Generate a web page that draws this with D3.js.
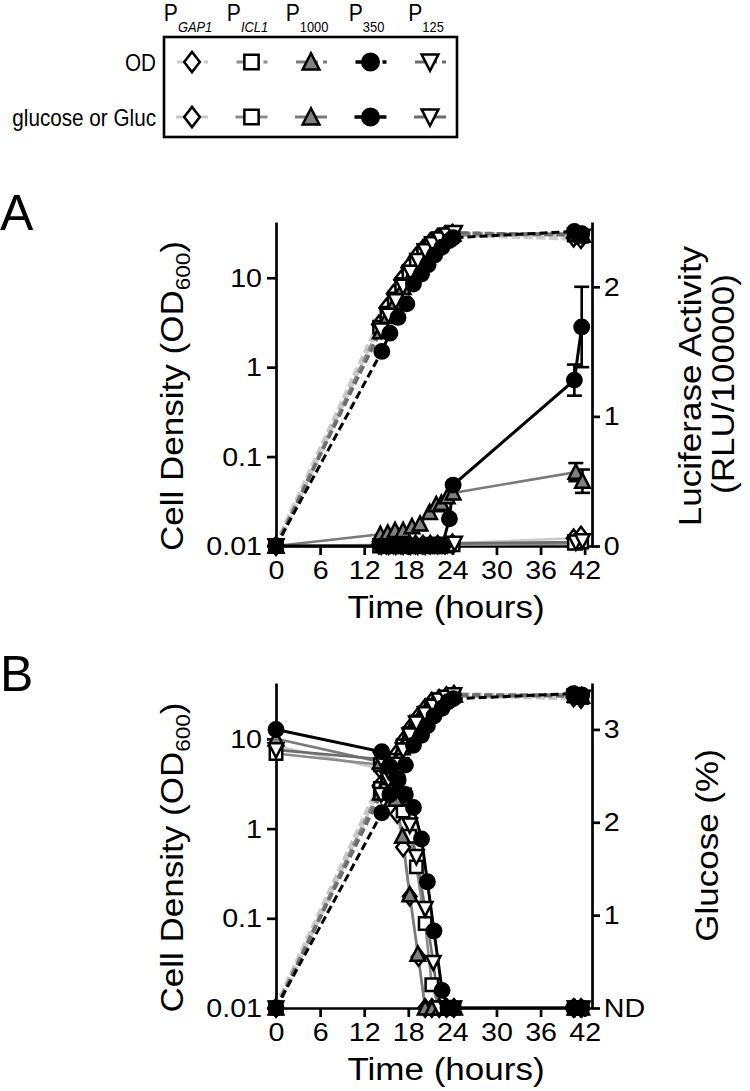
<!DOCTYPE html>
<html><head><meta charset="utf-8">
<script src="https://cdn.jsdelivr.net/npm/d3@7"></script>
<style>body{margin:0;background:#fff}svg{display:block}text{font-family:"Liberation Sans",Arial,sans-serif;fill:#000}</style>
</head><body><div id="c"></div>
<script>
// ---------------- DATA ----------------
const strainNames = ["GAP1", "ICL1", "1000", "350", "125"];
const strainItalic = [true, true, false, false, false];
const rowLabels = ["OD", "glucose or Gluc"];
const timeTicks = [0, 6, 12, 18, 24, 30, 36, 42];
const odTicks = [0.01, 0.1, 1, 10];
const odTickLabels = ["0.01", "0.1", "1", "10"];
const lucTicks = [0, 1, 2];
const lucTickLabels = ["0", "1", "2"];
const glcTicks = [0, 1, 2, 3];
const glcTickLabels = ["ND", "1", "2", "3"];

// Panel A: time (h), OD600, luciferase (RLU/100000), luciferase SD
const timeA_GAP1 = [0, 14, 15, 16, 17, 18, 19, 20, 21, 22, 23, 24, 40.5, 41.5];
const odA_GAP1   = [0.01, 3.0, 4.6, 6.6, 9.5, 13, 17, 21, 25, 28, 30, 31, 28, 27];
const lucA_GAP1  = [0, 0.01, 0.01, 0.01, 0.01, 0.01, 0.01, 0.01, 0.01, 0.01, 0.01, 0.02, 0.06, 0.08];
const timeA_ICL1 = [0, 14.1, 15.1, 16.1, 17.1, 18.1, 19.1, 20.1, 21.1, 22.1, 23.1, 24.1, 40.6, 41.6];
const odA_ICL1   = [0.01, 2.8, 4.0, 5.8, 8.4, 11.5, 15.5, 19.5, 23.5, 27, 29, 30, 30, 29];
const lucA_ICL1  = [0, 0, 0, 0, 0, 0, 0, 0, 0, 0, 0, 0.01, 0.02, 0.03];
const timeA_1000 = [0, 14.2, 15.2, 16.2, 17.3, 18.5, 19.6, 20.9, 21.8, 22.5, 23.3, 24.1, 40.8, 41.7];
const odA_1000   = [0.01, 2.5, 3.7, 5.3, 7.8, 11, 15, 19, 23, 26, 29, 31, 31, 30];
const lucA_1000  = [0, 0.09, 0.1, 0.12, 0.12, 0.15, 0.17, 0.26, 0.32, 0.33, 0.38, 0.41, 0.57, 0.5];
const sdA_1000   = [0, 0, 0, 0, 0, 0, 0, 0, 0, 0, 0, 0, 0.07, 0.09];
const timeA_350  = [0, 14.4, 15.5, 16.6, 17.8, 18.7, 19.8, 20.7, 21.6, 22.6, 23.6, 24.1, 40.6, 41.6];
const odA_350    = [0.01, 1.5, 2.4, 3.6, 5.1, 8.5, 11, 14, 18, 22, 26, 28, 33, 31];
const lucA_350   = [0, 0, 0, 0, 0, 0, 0, 0, 0, 0, 0.21, 0.47, 1.28, 1.69];
const sdA_350    = [0, 0, 0, 0, 0, 0, 0, 0, 0, 0, 0, 0, 0.12, 0.31];
const timeA_125  = [0, 14.3, 15.3, 16.3, 17.3, 18.3, 19.3, 20.3, 21.3, 22.3, 23.3, 24.3, 40.8, 41.7];
const odA_125    = [0.01, 2.6, 3.8, 5.5, 8, 11.5, 15.5, 20, 24, 27, 30, 32, 30, 29];
const lucA_125   = [0, 0, 0, 0, 0, 0, 0, 0, 0.01, 0.01, 0.01, 0.02, 0.03, 0.04];

// Panel B: time (h), OD600, glucose (%)
const timeB_GAP1 = [0, 14.1, 15.1, 16.5, 17.3, 18.2, 19.4, 20.3, 21.2, 22.2, 23.2, 24.2, 40.5, 41.5];
const odB_GAP1   = [0.01, 3.0, 4.6, 7, 9.5, 13, 18, 22, 26, 28, 30, 31, 29, 28];
const glcB_GAP1  = [2.82, 2.58, 2.43, 2.09, 1.73, 1.2, 0.55, 0, 0, 0, 0, 0, 0, 0];
const timeB_ICL1 = [0, 14.2, 15.3, 16.3, 17.3, 18.2, 19.1, 20.3, 21.2, 22.2, 23.2, 24.2, 40.6, 41.6];
const odB_ICL1   = [0.01, 2.8, 4.0, 5.8, 8.4, 11.5, 15.5, 19.5, 23.5, 27, 29, 30, 30, 29];
const glcB_ICL1  = [2.74, 2.62, 2.5, 2.35, 2.12, 1.85, 1.52, 0.91, 0.25, 0, 0, 0, 0, 0];
const timeB_1000 = [0, 14.2, 15.2, 16.3, 17.2, 18.2, 19.3, 20.3, 21.3, 22.3, 23.3, 24.3, 40.7, 41.6];
const odB_1000   = [0.01, 2.5, 3.7, 5.5, 8, 12, 16, 20, 24, 27, 29, 31, 31, 30];
const glcB_1000  = [2.9, 2.65, 2.5, 2.25, 1.85, 1.22, 0.58, 0, 0, 0, 0, 0, 0, 0];
const timeB_350  = [0, 14.4, 15.5, 16.6, 17.6, 18.7, 19.8, 20.6, 21.5, 22.6, 23.4, 24.1, 40.5, 41.6];
const odB_350    = [0.01, 1.5, 2.4, 3.6, 5.1, 8.5, 11, 14, 18, 22, 26, 28, 32, 31];
const glcB_350   = [3.0, 2.76, 2.6, 2.45, 2.3, 2.16, 1.82, 1.36, 0.83, 0.19, 0, 0, 0, 0];
const timeB_125  = [0, 14.3, 15.3, 16.3, 17.3, 18.2, 19.1, 20.3, 21.4, 22.2, 23.2, 24.2, 40.7, 41.7];
const odB_125    = [0.01, 2.4, 3.5, 5.2, 7.5, 11, 15, 19, 23, 27, 29, 31, 30, 29];
const glcB_125   = [2.78, 2.68, 2.55, 2.42, 2.29, 1.97, 1.63, 1.07, 0.49, 0, 0, 0, 0, 0];

// ---------------- STYLE ----------------
const lineColors = ["#cacaca", "#8c8c8c", "#7a7a7a", "#000000", "#6c6c6c"];
const markerTypes = ["diamond", "square", "triangle", "circle", "triangleDown"];
const markerFills = ["#fff", "#fff", "#808080", "#000", "#fff"];
const drawOrder = [0, 1, 2, 4, 3];
const FONT = '"Liberation Sans", Arial, sans-serif';
const TITLE_SIZE = 31, TITLE_STRETCH = 1.13;

const svg = d3.select("#c").append("svg").attr("width", 750).attr("height", 1091);

function markerPath(type, k) {
  const p = d3.path();
  if (type === "circle") { p.arc(0, 0, 7.2 * k, 0, 2 * Math.PI); }
  else if (type === "square") { const s = 6.2 * k; p.rect(-s, -s, 2 * s, 2 * s); }
  else if (type === "diamond") { const w = 6.8 * k, h = 8.8 * k; p.moveTo(0, -h); p.lineTo(w, 0); p.lineTo(0, h); p.lineTo(-w, 0); p.closePath(); }
  else if (type === "triangle") { const w = 7.3 * k, h = 6.6 * k; p.moveTo(0, -h - 1 * k); p.lineTo(w, h); p.lineTo(-w, h); p.closePath(); }
  else if (type === "triangleDown") { const w = 7.3 * k, h = 6.6 * k; p.moveTo(-w, -h); p.lineTo(w, -h); p.lineTo(0, h + 1 * k); p.closePath(); }
  return p.toString();
}

function drawMarker(g, i, x, y, k) {
  g.append("path").attr("d", markerPath(markerTypes[i], k))
    .attr("transform", `translate(${x},${y})`)
    .attr("fill", markerFills[i]).attr("stroke", "#000").attr("stroke-width", 2.5)
    .attr("stroke-linejoin", "miter");
}

// ---------------- LEGEND ----------------
const legendX = d3.scalePoint().domain(strainNames).range([192, 430]);
const legendRowY = d3.scalePoint().domain(rowLabels).range([62, 117]);
const lg = svg.append("g");
lg.append("rect").attr("x", 164).attr("y", 37).attr("width", 293).attr("height", 100)
  .attr("fill", "none").attr("stroke", "#000").attr("stroke-width", 2.6);
strainNames.forEach((name, i) => {
  const cx = legendX(name);
  const t = lg.append("text").attr("transform", `translate(${cx - 4},21) scale(0.92,1)`)
    .attr("text-anchor", "middle").style("font-size", "23px");
  t.append("tspan").text("P");
  t.append("tspan").attr("dy", 11).style("font-size", "14px")
    .style("font-style", strainItalic[i] ? "italic" : "normal").text(name);
  const w = i === 3 ? 3.4 : 3;
  lg.append("line").attr("x1", cx - 15).attr("x2", cx + 17)
    .attr("y1", legendRowY("OD")).attr("y2", legendRowY("OD"))
    .attr("stroke", lineColors[i]).attr("stroke-width", w).attr("stroke-dasharray", "22,5,4,20");
  lg.append("line").attr("x1", cx - 16).attr("x2", cx + 16)
    .attr("y1", legendRowY(rowLabels[1])).attr("y2", legendRowY(rowLabels[1]))
    .attr("stroke", lineColors[i]).attr("stroke-width", w);
  rowLabels.forEach(r => drawMarker(lg, i, cx, legendRowY(r), 1.15));
});
rowLabels.forEach(r => {
  lg.append("text").attr("transform", `translate(156,${legendRowY(r) + 8.5}) scale(0.88,1)`)
    .attr("text-anchor", "end").style("font-size", "23.5px").text(r);
});

// ---------------- PANELS ----------------
function panel(opt) {
  const g = svg.append("g");
  const x = d3.scaleLinear().domain([0, 43]).range([276, 592]);
  const yL = d3.scaleLog().domain([0.01, 42]).range([opt.bot, opt.top]);
  const yR = d3.scaleLinear().domain([0, opt.rmax]).range([opt.bot, opt.top]);

  const ax = (sel) => {
    sel.selectAll("path.domain").attr("stroke-width", 2.7);
    sel.selectAll(".tick line").attr("stroke-width", 2.7);
    sel.selectAll(".tick text").style("font-size", "26.5px").style("font-family", FONT)
      .attr("transform", "scale(1.08,1)");
  };
  g.append("g").attr("transform", `translate(276,0)`)
    .call(d3.axisLeft(yL).tickValues(odTicks).tickFormat((d, i) => odTickLabels[i]).tickSize(9).tickSizeOuter(0).tickPadding(4)).call(ax);
  g.append("g").attr("transform", `translate(592,0)`)
    .call(d3.axisRight(yR).tickValues(opt.rticks).tickFormat((d, i) => opt.rlabels[i]).tickSize(8).tickSizeOuter(0).tickPadding(3)).call(ax);
  g.append("g").attr("transform", `translate(0,${opt.bot})`)
    .call(d3.axisBottom(x).tickValues(timeTicks).tickSize(9).tickSizeOuter(0).tickPadding(5)).call(ax);

  g.append("text").attr("x", 0).attr("y", opt.top + 8).style("font-size", "50px").text(opt.letter);

  const mid = (opt.top + opt.bot) / 2;
  const lt = g.append("text")
    .attr("transform", `translate(183,${mid + 12}) rotate(-90) scale(${TITLE_STRETCH},1)`)
    .attr("text-anchor", "middle").style("font-size", TITLE_SIZE + "px");
  lt.append("tspan").text("Cell Density (OD");
  lt.append("tspan").attr("dy", 7).style("font-size", "20px").text("600");
  lt.append("tspan").attr("dy", -7).text(")");

  opt.rtitle.forEach((line, j) => {
    g.append("text")
      .attr("transform", `translate(${opt.rtitleX + j * 33},${mid + opt.rdy[j]}) rotate(-90) scale(${TITLE_STRETCH},1)`)
      .attr("text-anchor", "middle").style("font-size", TITLE_SIZE + "px").text(line);
  });

  g.append("text").attr("transform", `translate(446,${opt.bot + 72}) scale(${TITLE_STRETCH},1)`)
    .attr("text-anchor", "middle").style("font-size", TITLE_SIZE + "px").text("Time (hours)");

  const pg = g.append("g");
  const series = opt.series;
  const lineOD = d3.line().x(d => x(d.t)).y(d => yL(d.od));
  const lineS = d3.line().x(d => x(d.t)).y(d => yR(d.s));

  drawOrder.forEach(i => {
    pg.append("path").datum(series[i]).attr("d", lineOD).attr("fill", "none")
      .attr("stroke", lineColors[i]).attr("stroke-width", i === 0 ? 6 : 3)
      .attr("stroke-dasharray", i === 0 ? "9,3.5" : "8,4");
  });
  drawOrder.forEach(i => {
    pg.append("path").datum(series[i]).attr("d", lineS).attr("fill", "none")
      .attr("stroke", lineColors[i]).attr("stroke-width", i === 3 ? 3 : 2.6);
  });
  drawOrder.forEach(i => {
    series[i].filter(d => d.sd > 0).forEach(d => {
      const cx = x(d.t), y1 = yR(d.s + d.sd), y2 = yR(d.s - d.sd);
      pg.append("line").attr("x1", cx).attr("x2", cx).attr("y1", y1).attr("y2", y2).attr("stroke", "#000").attr("stroke-width", 2.6);
      [y1, y2].forEach(yy => pg.append("line").attr("x1", cx - 7.5).attr("x2", cx + 7.5).attr("y1", yy).attr("y2", yy).attr("stroke", "#000").attr("stroke-width", 2.6));
    });
  });
  drawOrder.forEach(i => {
    series[i].forEach(d => {
      drawMarker(pg, i, x(d.t), yL(d.od), 1);
      drawMarker(pg, i, x(d.t), yR(d.s), 1);
    });
  });
}

function build(times, ods, sig, sds) {
  return times.map((t, k) => ({ t, od: ods[k], s: sig[k], sd: sds ? sds[k] : 0 }));
}

panel({
  letter: "A", top: 222, bot: 546, rmax: 2.5, rticks: lucTicks, rlabels: lucTickLabels,
  rtitle: ["Luciferase Activity", "(RLU/100000)"], rtitleX: 701, rdy: [2, 0],
  series: [
    build(timeA_GAP1, odA_GAP1, lucA_GAP1),
    build(timeA_ICL1, odA_ICL1, lucA_ICL1),
    build(timeA_1000, odA_1000, lucA_1000, sdA_1000),
    build(timeA_350, odA_350, lucA_350, sdA_350),
    build(timeA_125, odA_125, lucA_125)
  ]
});
panel({
  letter: "B", top: 683, bot: 1008, rmax: 3.5, rticks: glcTicks, rlabels: glcTickLabels,
  rtitle: ["Glucose (%)"], rtitleX: 718, rdy: [0],
  series: [
    build(timeB_GAP1, odB_GAP1, glcB_GAP1),
    build(timeB_ICL1, odB_ICL1, glcB_ICL1),
    build(timeB_1000, odB_1000, glcB_1000),
    build(timeB_350, odB_350, glcB_350),
    build(timeB_125, odB_125, glcB_125)
  ]
});
</script></body></html>
